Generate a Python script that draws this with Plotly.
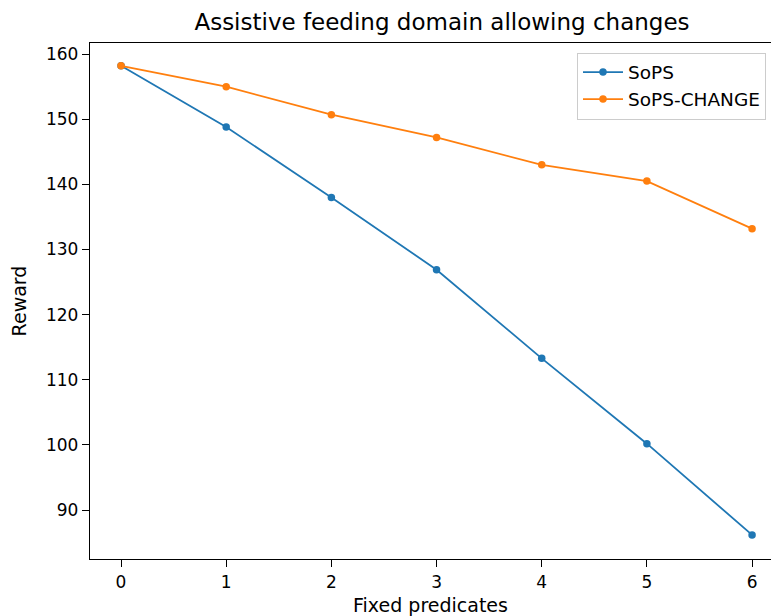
import plotly.graph_objects as go

x_vals = [0, 1, 2, 3, 4, 5, 6]
sops = [158.2, 148.8, 138.0, 126.9, 113.3, 100.2, 86.2]
sops_change = [158.2, 155.0, 150.7, 147.2, 143.0, 140.5, 133.2]
y_ticks = [90, 100, 110, 120, 130, 140, 150, 160]
x_ticks = [0, 1, 2, 3, 4, 5, 6]

font = "DejaVu Sans"
fig = go.Figure()
fig.add_trace(go.Scatter(x=x_vals, y=sops, mode="lines+markers", name="SoPS",
                         line=dict(color="#1f77b4", width=1.8),
                         marker=dict(size=7.5, color="#1f77b4")))
fig.add_trace(go.Scatter(x=x_vals, y=sops_change, mode="lines+markers", name="SoPS-CHANGE",
                         line=dict(color="#ff7f0e", width=1.8),
                         marker=dict(size=7.5, color="#ff7f0e")))

fig.update_layout(
    width=771, height=616,
    margin=dict(l=90, r=0, t=43, b=57),
    paper_bgcolor="white", plot_bgcolor="white",
    font=dict(family=font, size=17, color="black"),
    title=dict(text="Assistive feeding domain allowing changes", x=442 / 771, xanchor="center",
               y=1 - 22/616, yanchor="middle", font=dict(size=23, family=font)),
    showlegend=True,
    legend=dict(x=(577 - 90) / 681, y=1 - 9.5 / 516, xanchor="left", yanchor="top",
                bgcolor="white", bordercolor="#cccccc", borderwidth=1,
                font=dict(size=18.5, family=font), itemwidth=40, tracegroupgap=0),
)
fig.update_xaxes(range=[-0.295, 6.18], tickvals=x_ticks, ticks="outside", ticklen=7, tickwidth=1,
                 tickcolor="black", showline=True, linecolor="black", linewidth=1.3, mirror=True,
                 showgrid=False, zeroline=False,
                 title=dict(text="Fixed predicates", font=dict(size=19, family=font), standoff=10))
fig.update_yaxes(range=[82.5, 161.7], tickvals=y_ticks, ticks="outside", ticklen=7, tickwidth=1,
                 tickcolor="black", showline=True, linecolor="black", linewidth=1.3, mirror=False,
                 showgrid=False, zeroline=False,
                 title=dict(text="Reward", font=dict(size=19, family=font), standoff=14))
fig.write_html("out.html")
